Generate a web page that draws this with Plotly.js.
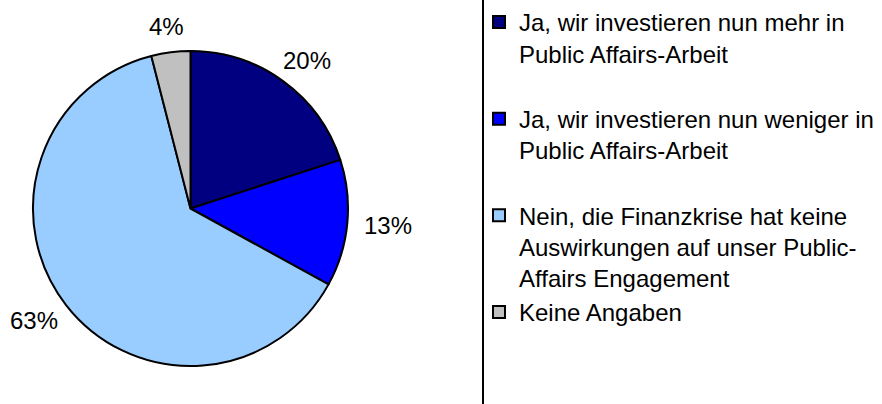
<!DOCTYPE html>
<html>
<head>
<meta charset="utf-8">
<script src="https://cdn.plot.ly/plotly-3.0.1.min.js"></script>
<style>html,body{margin:0;padding:0;background:#fff;}#chart{width:882px;height:404px;}</style>
</head>
<body>
<div id="chart"></div>
<script>
// Data
var categories = [
  "Ja, wir investieren nun mehr in<br>Public Affairs-Arbeit<br>\u00a0",
  "Ja, wir investieren nun weniger in<br>Public Affairs-Arbeit<br>\u00a0",
  "Nein, die Finanzkrise hat keine<br>Auswirkungen auf unser Public-<br>Affairs Engagement",
  "Keine Angaben"
];
var values = [20, 13, 63, 4];
var valueLabels = ["20%", "13%", "63%", "4%"];
var colors = ["#000080", "#0000FF", "#99CCFF", "#C0C0C0"];

// Layout geometry (pixels)
var W = 882, H = 404;
var cx = 190.5, cy = 208.5, R = 157.5;
var FONT = "Liberation Sans, Arial, Helvetica, sans-serif";

// label annotations computed from the data (mid-angle of each slice)
var total = values.reduce(function(a, b){ return a + b; }, 0);
var annotations = [];
var cum = 0;
for (var i = 0; i < values.length; i++) {
  var mid = (cum + values[i] / 2) / total * 2 * Math.PI;
  cum += values[i];
  var ux = Math.sin(mid), uy = -Math.cos(mid);
  var txt = valueLabels[i];
  var hw = 0.5 * 24 * (0.556 * (txt.length - 1) + 0.889);
  var hh = 9;
  var gap = 17;
  var px = cx + (R + gap) * ux + hw * ux;
  var py = cy + (R + gap) * uy + hh * uy;
  annotations.push({
    text: txt, showarrow: false,
    xref: "paper", yref: "paper",
    x: px / W, y: 1 - py / H,
    xanchor: "center", yanchor: "middle",
    font: {family: FONT, size: 24, color: "#000"}
  });
}

var trace = {
  type: "pie",
  labels: categories,
  values: values,
  sort: false,
  direction: "clockwise",
  rotation: 0,
  textinfo: "none",
  marker: {colors: colors, line: {color: "#000", width: 2}},
  domain: {x: [(cx - R) / W, (cx + R) / W], y: [1 - (cy + R) / H, 1 - (cy - R) / H]},
  hoverinfo: "label+percent"
};

var layout = {
  width: W, height: H,
  margin: {l: 0, r: 0, t: 0, b: 0},
  paper_bgcolor: "#fff",
  font: {family: FONT, size: 24, color: "#000"},
  showlegend: true,
  legend: {
    x: 479 / W, xanchor: "left",
    y: 1, yanchor: "top",
    valign: "top",
    bgcolor: "rgba(0,0,0,0)",
    font: {family: FONT, size: 24, color: "#000"},
    traceorder: "normal"
  },
  annotations: annotations,
  shapes: [{
    type: "line", xref: "paper", yref: "paper",
    x0: 483 / W, x1: 483 / W, y0: 0, y1: 1,
    line: {color: "#000", width: 2}
  }]
};

Plotly.newPlot("chart", [trace], layout, {displayModeBar: false, staticPlot: true});
</script>
</body>
</html>
